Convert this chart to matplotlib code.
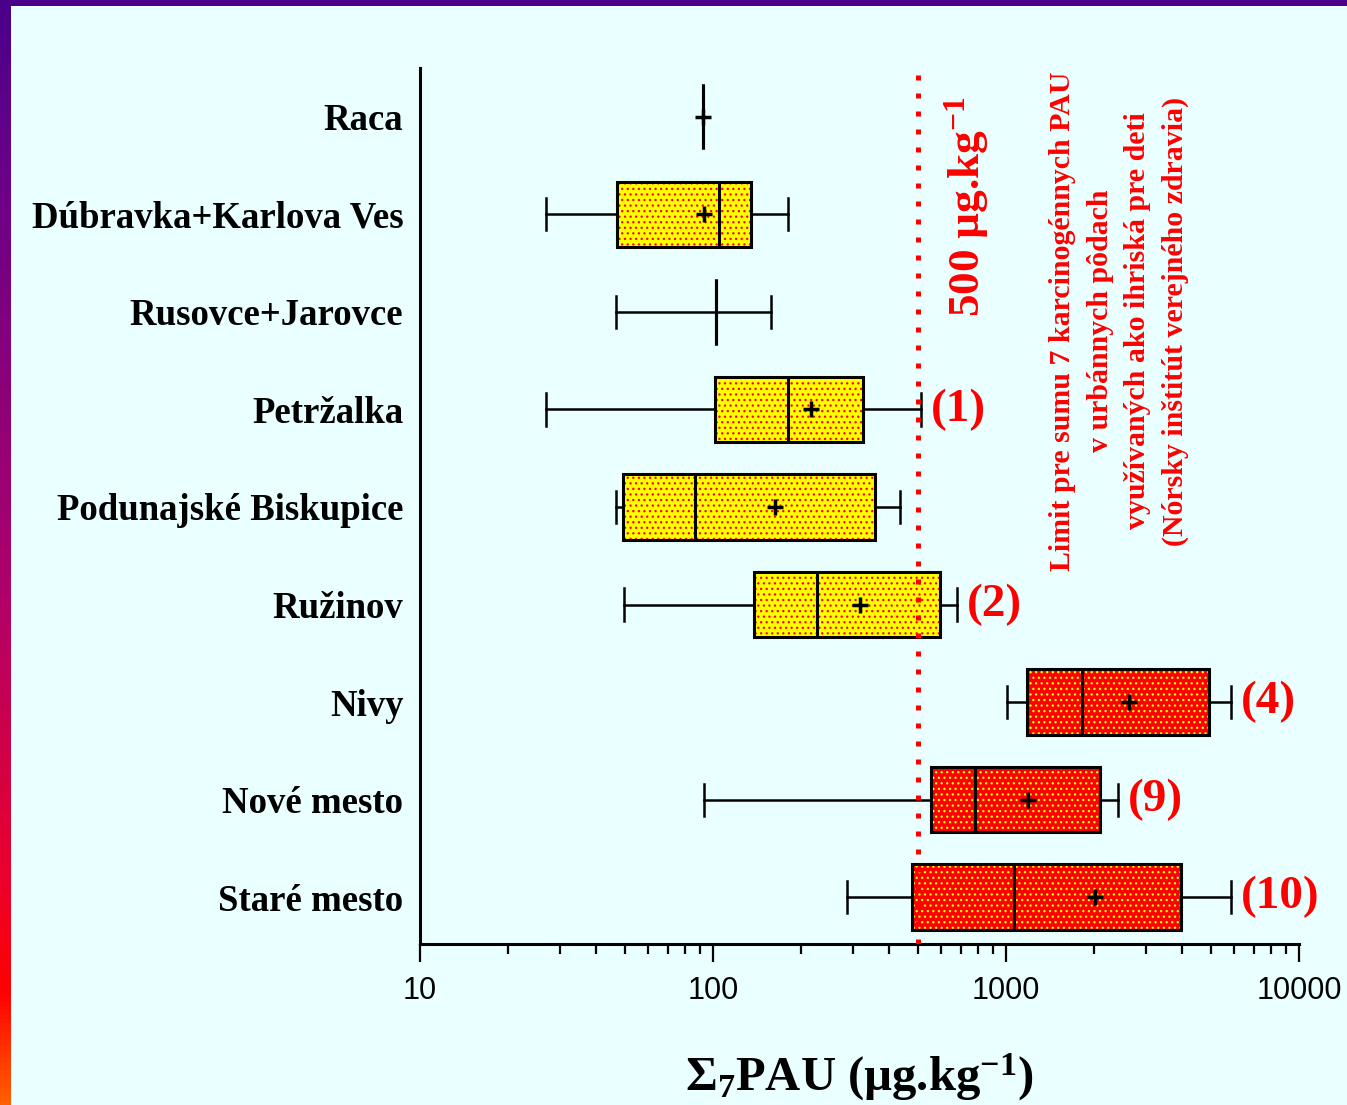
import matplotlib.pyplot as plt
import numpy as np
from matplotlib.colors import LinearSegmentedColormap
from matplotlib.patches import Rectangle

plt.rcParams["mathtext.default"] = "regular"
plt.rcParams["hatch.linewidth"] = 0.9

SERIF = "Liberation Serif"
BG = "#EAFFFF"

# sum of 7 carcinogenic PAH per district (ug/kg)
districts = [
    "Raca",
    "Dúbravka+Karlova Ves",
    "Rusovce+Jarovce",
    "Petržalka",
    "Podunajské Biskupice",
    "Ružinov",
    "Nivy",
    "Nové mesto",
    "Staré mesto",
]
whis_lo = [92.5, 26.9, 46.6, 26.9, 46.6, 49.7, 1007, 93, 287]
q1 = [92.5, 47, 102, 101.6, 49.3, 138, 1180, 555, 478]
medians = [92.5, 105, 102, 181, 86.9, 226, 1817, 783, 1064]
q3 = [92.5, 135, 102, 325, 357, 595, 4930, 2094, 3954]
whis_hi = [92.5, 180, 158, 513, 434, 680, 5860, 2411, 5860]
means = [92.5, 93, np.nan, 216, 163, 317, 2630, 1189, 2014]
exceed_labels = ["", "", "", "(1)", "", "(2)", "(4)", "(9)", "(10)"]
fill_colors = ["#FFFF00"] * 6 + ["#FF0000"] * 3
dot_colors = ["#FF0000"] * 6 + ["#FFFF00"] * 3
limit = 500

fig = plt.figure(figsize=(13.47, 11.05), dpi=100, facecolor=BG)

# purple -> red frame on the left and top edge
edge_cmap = LinearSegmentedColormap.from_list(
    "edge",
    [(0.0, "#4A008A"), (0.18, "#6E0088"), (0.27, "#7D0080"), (0.54, "#B0006A"),
     (0.81, "#EE0028"), (0.90, "#FF0000"), (1.0, "#FF6000")],
)
edge_ax = fig.add_axes([0, 0, 11 / 1347, 1])
edge_ax.imshow(np.linspace(0, 1, 256).reshape(-1, 1), cmap=edge_cmap, aspect="auto")
edge_ax.axis("off")
fig.add_artist(Rectangle((0, 1 - 6 / 1105), 1, 6 / 1105, transform=fig.transFigure,
                         facecolor="#4A0088", edgecolor="none"))

ax = fig.add_axes([420 / 1347, 161 / 1105, 879 / 1347, 876 / 1105])
ax.set_facecolor(BG)

n = len(districts)
positions = np.arange(n)
stats = [
    dict(label=d, whislo=lo, q1=a, med=m, q3=b, whishi=hi, mean=mn, fliers=[])
    for d, lo, a, m, b, hi, mn in zip(districts, whis_lo, q1, medians, q3, whis_hi, means)
]

box_h = 0.67
for i in range(n):
    if q3[i] > q1[i]:
        ax.add_patch(Rectangle((q1[i], positions[i] - box_h / 2), q3[i] - q1[i], box_h,
                               facecolor=fill_colors[i], edgecolor=dot_colors[i],
                               linewidth=0, hatch="...", zorder=2))

ax.bxp(
    stats, positions=positions, widths=box_h, capwidths=0.33,
    orientation="horizontal", patch_artist=True, showmeans=True, manage_ticks=False,
    boxprops=dict(facecolor="none", edgecolor="black", linewidth=2.2),
    medianprops=dict(color="black", linewidth=2.2),
    whiskerprops=dict(color="black", linewidth=1.8),
    capprops=dict(color="black", linewidth=1.8),
    meanprops=dict(marker="+", markersize=11, markeredgewidth=2.5,
                   markeredgecolor="black"),
    zorder=3,
)

ax.axvline(limit, color="red", linewidth=3.6, linestyle=(0, (1, 2.6)), zorder=4)

for i, lab in enumerate(exceed_labels):
    if lab:
        ax.annotate(lab, (whis_hi[i], positions[i]), xytext=(7, 0),
                    textcoords="offset points", ha="left", va="center",
                    color="red", fontsize=34, fontweight="bold", family=SERIF,
                    annotation_clip=False)

ax.text(967 / 1347, 1 - 207 / 1105, "500 µg.kg$^{-1}$", transform=fig.transFigure,
        rotation=90, ha="center", va="center", color="red", fontsize=32.5,
        fontweight="bold", family=SERIF)
ax.text(1119 / 1347, 1 - 321 / 1105,
        "Limit pre sumu 7 karcinogénnych PAU\nv urbánnych pôdach\n"
        "využívaných ako ihriská pre deti\n(Nórsky inštitút verejného zdravia)",
        transform=fig.transFigure, rotation=90, ha="center", va="center",
        multialignment="center", linespacing=1.5, color="red", fontsize=21.5,
        fontweight="bold", family=SERIF)

ax.set_xscale("log")
ax.set_xlim(10, 10000)
ax.set_ylim(n - 0.52, -0.5)
ax.set_xticks([10, 100, 1000, 10000], ["10", "100", "1000", "10000"])
ax.set_yticks(positions, districts)
for t in ax.get_yticklabels():
    t.set_fontfamily(SERIF)
    t.set_fontweight("bold")
    t.set_fontsize(26.5)
for t in ax.get_xticklabels():
    t.set_fontfamily("Liberation Sans")
    t.set_fontsize(22)

ax.tick_params(axis="y", length=0, pad=12)
ax.tick_params(axis="x", which="major", direction="out", length=13, width=1.6, pad=10)
ax.tick_params(axis="x", which="minor", direction="out", length=7, width=1.6)

for side in ("top", "right"):
    ax.spines[side].set_visible(False)
for side in ("left", "bottom"):
    ax.spines[side].set_linewidth(2.2)

ax.set_xlabel("Σ$_7$PAU (µg.kg$^{-1}$)", fontsize=35, fontweight="bold",
              family=SERIF, labelpad=33)

fig.savefig("out.png", dpi=100, facecolor=BG)
